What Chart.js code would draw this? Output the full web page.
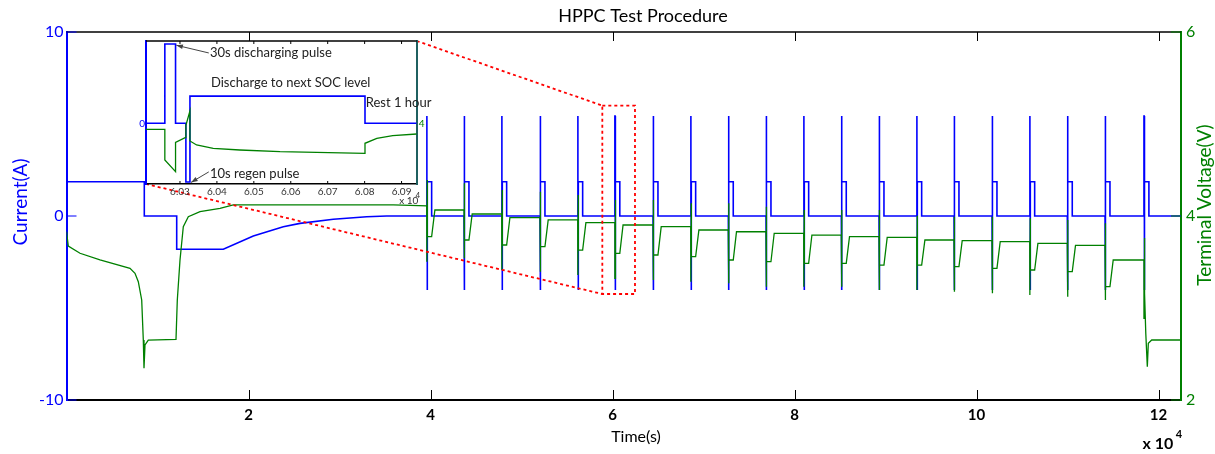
<!DOCTYPE html>
<html>
<head>
<meta charset="utf-8">
<script src="https://cdn.jsdelivr.net/npm/chart.js@4.4.1/dist/chart.umd.min.js"></script>
<style>
  html, body { margin: 0; padding: 0; background: #fff; }
  #wrap { position: relative; width: 1215px; height: 454px; }
  #mainChart { position: absolute; left: 0; top: 0; }
  #insetChart { position: absolute; left: 110px; top: 30px; }
</style>
</head>
<body>
<div id="wrap">
  <canvas id="mainChart" width="1215" height="454"></canvas>
  <canvas id="insetChart" width="340" height="185"></canvas>
</div>
<script>
const BLUE = '#0000ff';
const GREEN = '#008000';
const FONT = 'Lato, "DejaVu Sans", sans-serif';

// ---- main chart data (time in s) ----
const xTicks = [20000, 40000, 60000, 80000, 100000, 120000];
const endTime = 122470;

// first discharge / charge before the pulse train
const startTime = [0, 8549, 8549, 12110, 12110, 17231, 20527, 23824, 25659, 29319, 32989, 35187];
const startCurrent = [1.86, 1.86, 0, 0, -1.81, -1.81, -1.09, -0.58, -0.40, -0.18, -0.04, 0];

const startVoltTime = [0, 198, 1484, 3681, 6978, 7527, 7890, 8264, 8440, 8516, 8626, 8989, 12033, 12176, 12473, 12835, 13385, 14670, 16868, 18330, 35912];
const startVolt = [3.83, 3.674, 3.595, 3.522, 3.431, 3.377, 3.286, 3.087, 2.652, 2.345, 2.598, 2.652, 2.660, 3.087, 3.522, 3.884, 3.992, 4.047, 4.084, 4.120, 4.120];

// HPPC pulses
const pulseTime = [39582, 43681, 47824, 52033, 56176, 60259, 64451, 68593, 72725, 76868,
                   81011, 85143, 89286, 93429, 97527, 101703, 105846, 109978, 114121, 118400];
const dischargeAmp = 5.43;
const regenAmp = -4.02;
const socAmp = 1.86;

const restVolt = [4.109, 4.065, 4.022, 3.982, 3.957, 3.928, 3.902, 3.884, 3.848, 3.829,
                  3.812, 3.793, 3.775, 3.768, 3.739, 3.732, 3.721, 3.703, 3.68, 3.522];
const peakVolt = [4.391, 4.355, 4.283, 4.264, 4.228, 4.174, 4.174, 4.138, 4.138, 4.101,
                  4.065, 4.065, 4.065, 4.003, 3.993, 3.993, 3.975, 3.957, 3.921, 3.76];
const lowVolt = [3.503, 3.540, 3.413, 3.395, 3.359, 3.323, 3.304, 3.286, 3.268, 3.232,
                 3.232, 3.232, 3.196, 3.196, 3.177, 3.160, 3.141, 3.123, 3.087, 2.888];
const dipVolt = [3.775, 3.739, 3.685, 3.667, 3.630, 3.594, 3.576, 3.558, 3.522, 3.503,
                 3.486, 3.486, 3.467, 3.467, 3.449, 3.431, 3.413, 3.395, 3.232];

// last pulse runs into the cut-off
const tailTime = [118470, 118600, 118769, 118879, 119253, 122470];
const tailVolt = [3.16, 2.725, 2.362, 2.616, 2.652, 2.652];

// protocol step offsets inside one pulse (s)
const DIS_END = 30, REGEN_START = 58, REGEN_END = 69, SOC_END = 543, RECOVER = 900;

// zoomed region marked on the main plot
const zoomTime = [58880, 62470];
const zoomCurrent = [-4.24, 6.0];

// ---- inset data ----
const insetTicks = [60300, 60400, 60500, 60600, 60700, 60800, 60900];
const insetCurTime = [60208, 60259, 60259, 60288, 60288, 60316, 60316, 60327, 60327, 60801, 60801, 60941];
const insetCurrent = [0, 0, 5.43, 5.43, 0, 0, -4.02, -4.02, 1.86, 1.86, 0, 0];
const insetVoltTime = [60208, 60259, 60259, 60288, 60288, 60314, 60316, 60327, 60327, 60345, 60390, 60462, 60571, 60801, 60801, 60833, 60876, 60941];
const insetVolt = [3.94, 3.94, 3.633, 3.516, 3.81, 3.856, 3.98, 4.123, 3.823, 3.783, 3.75, 3.733, 3.716, 3.70, 3.80, 3.85, 3.876, 3.893];

function buildCurrent() {
  const pts = startTime.map((t, i) => ({x: t, y: startCurrent[i]}));
  pulseTime.forEach(t => {
    pts.push({x: t, y: 0}, {x: t, y: dischargeAmp}, {x: t + DIS_END, y: dischargeAmp}, {x: t + DIS_END, y: 0},
      {x: t + REGEN_START, y: 0}, {x: t + REGEN_START, y: regenAmp}, {x: t + REGEN_END, y: regenAmp},
      {x: t + REGEN_END, y: socAmp}, {x: t + SOC_END, y: socAmp}, {x: t + SOC_END, y: 0});
  });
  pts.push({x: endTime, y: 0});
  return pts;
}

function buildVoltage() {
  const pts = startVoltTime.map((t, i) => ({x: t, y: startVolt[i]}));
  pulseTime.forEach((t, k) => {
    pts.push({x: t, y: restVolt[k]}, {x: t + 1, y: lowVolt[k]}, {x: t + DIS_END, y: lowVolt[k]},
      {x: t + REGEN_START, y: peakVolt[k]}, {x: t + REGEN_END, y: peakVolt[k]});
    if (k < dipVolt.length) {
      pts.push({x: t + REGEN_END + 1, y: dipVolt[k]}, {x: t + SOC_END, y: dipVolt[k]},
        {x: t + RECOVER, y: restVolt[k + 1]});
    }
  });
  tailTime.forEach((t, i) => pts.push({x: t, y: tailVolt[i]}));
  return pts;
}

function fixedTicks(values) {
  return function(scale) { scale.ticks = values.map(v => ({value: v})); };
}

function drawText(ctx, text, x, y, font, color, align, rot) {
  ctx.save();
  ctx.translate(x, y);
  if (rot) ctx.rotate(rot);
  ctx.font = font;
  ctx.fillStyle = color;
  ctx.textAlign = align || 'center';
  ctx.textBaseline = 'middle';
  ctx.fillText(text, 0, 0);
  ctx.restore();
}

// ---- inset chart ----
const insetDecor = {
  id: 'insetDecor',
  beforeDraw(chart) {
    const {ctx, chartArea: a} = chart;
    ctx.save();
    ctx.fillStyle = '#fff';
    ctx.fillRect(a.left, a.top, a.right - a.left, a.bottom - a.top);
    ctx.restore();
  },
  afterDatasetsDraw(chart) {
    const {ctx, chartArea: a, scales} = chart;
    const x = scales.x, y = scales.y;
    ctx.save();
    // top border + small inward ticks
    ctx.strokeStyle = '#000';
    ctx.lineWidth = 1.5;
    ctx.beginPath();
    ctx.moveTo(a.left, a.top);
    ctx.lineTo(a.right, a.top);
    ctx.stroke();
    ctx.lineWidth = 1;
    insetTicks.forEach(v => {
      const px = x.getPixelForValue(v);
      ctx.beginPath();
      ctx.moveTo(px, a.bottom); ctx.lineTo(px, a.bottom - 3);
      ctx.moveTo(px, a.top); ctx.lineTo(px, a.top + 3);
      ctx.stroke();
    });

    // annotations with arrows
    const f = '13px ' + FONT;
    const arrow = (x0, y0, x1, y1) => {
      ctx.strokeStyle = '#444';
      ctx.fillStyle = '#444';
      ctx.lineWidth = 1;
      ctx.beginPath();
      ctx.moveTo(x0, y0); ctx.lineTo(x1, y1);
      ctx.stroke();
      const ang = Math.atan2(y1 - y0, x1 - x0);
      ctx.beginPath();
      ctx.moveTo(x1, y1);
      ctx.lineTo(x1 - 7 * Math.cos(ang - 0.35), y1 - 7 * Math.sin(ang - 0.35));
      ctx.lineTo(x1 - 7 * Math.cos(ang + 0.35), y1 - 7 * Math.sin(ang + 0.35));
      ctx.closePath();
      ctx.fill();
    };
    arrow(x.getPixelForValue(60378), y.getPixelForValue(4.82), x.getPixelForValue(60290), y.getPixelForValue(5.35));
    arrow(x.getPixelForValue(60378), y.getPixelForValue(-3.33), x.getPixelForValue(60330), y.getPixelForValue(-4.05));
    drawText(ctx, '30s discharging pulse', x.getPixelForValue(60381), y.getPixelForValue(4.82), f, '#222', 'left');
    drawText(ctx, 'Discharge to next SOC level', x.getPixelForValue(60384), y.getPixelForValue(2.77), f, '#222', 'left');
    drawText(ctx, 'Rest 1 hour', x.getPixelForValue(60803), y.getPixelForValue(1.41), f, '#222', 'left');
    drawText(ctx, '10s regen pulse', x.getPixelForValue(60381), y.getPixelForValue(-3.47), f, '#222', 'left');

    // x 10^4 exponent
    drawText(ctx, 'x 10', a.right - 8, a.bottom + 17, '10px ' + FONT, '#333', 'center');
    drawText(ctx, '4', a.right + 1, a.bottom + 11, '8px ' + FONT, '#333', 'center');
    ctx.restore();
  }
};

const insetChart = new Chart(document.getElementById('insetChart'), {
  type: 'line',
  data: {
    datasets: [{
      data: insetVoltTime.map((t, i) => ({x: t, y: insetVolt[i]})),
      yAxisID: 'y2',
      borderColor: GREEN,
      borderWidth: 1.3,
      pointRadius: 0,
      tension: 0
    }, {
      data: insetCurTime.map((t, i) => ({x: t, y: insetCurrent[i]})),
      yAxisID: 'y',
      borderColor: BLUE,
      borderWidth: 1.6,
      pointRadius: 0,
      tension: 0
    }]
  },
  options: {
    responsive: false,
    animation: false,
    layout: { padding: { top: 11, left: 0, right: 0, bottom: 0 } },
    plugins: { legend: { display: false }, tooltip: { enabled: false }, title: { display: false } },
    scales: {
      x: {
        type: 'linear', min: 60208, max: 60941,
        afterBuildTicks: fixedTicks(insetTicks),
        afterFit: s => { s.height = 31; },
        ticks: { callback: v => (v / 1e4).toFixed(2), font: { family: FONT, size: 10 }, color: '#333', padding: 2, maxRotation: 0, autoSkip: false },
        grid: { display: false, drawTicks: false },
        border: { color: '#000', width: 1.5 }
      },
      y: {
        position: 'left', min: -4.16, max: 5.64,
        afterBuildTicks: fixedTicks([0]),
        afterFit: s => { s.width = 36; },
        ticks: { font: { family: FONT, size: 10 }, color: BLUE, padding: 1 },
        grid: { display: false, drawTicks: false },
        border: { color: BLUE, width: 2 }
      },
      y2: {
        position: 'right', min: 3.393, max: 4.823,
        afterBuildTicks: fixedTicks([4]),
        afterFit: s => { s.width = 33.3; },
        ticks: { font: { family: FONT, size: 10 }, color: GREEN, padding: 2 },
        grid: { display: false, drawTicks: false },
        border: { color: '#1f6060', width: 2 }
      }
    }
  },
  plugins: [insetDecor]
});

// ---- main chart ----
const mainDecor = {
  id: 'mainDecor',
  afterDatasetsDraw(chart) {
    const {ctx, chartArea: a, scales} = chart;
    const x = scales.x, y = scales.y, y2 = scales.y2;
    ctx.save();

    // zoom box and connection lines
    const bx0 = x.getPixelForValue(zoomTime[0]), bx1 = x.getPixelForValue(zoomTime[1]);
    const by0 = y.getPixelForValue(zoomCurrent[1]), by1 = y.getPixelForValue(zoomCurrent[0]);
    const ia = insetChart.chartArea;
    const offX = insetChart.canvas.offsetLeft, offY = insetChart.canvas.offsetTop;
    ctx.strokeStyle = '#ff0000';
    ctx.lineWidth = 1.8;
    ctx.setLineDash([3, 3]);
    ctx.strokeRect(bx0, by0, bx1 - bx0, by1 - by0);
    ctx.beginPath();
    ctx.moveTo(offX + ia.right, offY + ia.top); ctx.lineTo(bx0, by0);
    ctx.moveTo(offX + ia.left, offY + ia.bottom); ctx.lineTo(bx0, by1);
    ctx.stroke();
    ctx.setLineDash([]);

    // top border
    ctx.strokeStyle = '#000';
    ctx.lineWidth = 1.5;
    ctx.beginPath();
    ctx.moveTo(a.left, a.top); ctx.lineTo(a.right, a.top);
    ctx.stroke();

    // inward tick marks
    ctx.lineWidth = 1;
    xTicks.forEach(v => {
      const px = Math.round(x.getPixelForValue(v)) + 0.5;
      ctx.beginPath();
      ctx.moveTo(px, a.bottom); ctx.lineTo(px, a.bottom - 10);
      ctx.moveTo(px, a.top); ctx.lineTo(px, a.top + 9);
      ctx.stroke();
    });
    ctx.strokeStyle = BLUE;
    [-10, 0, 10].forEach(v => {
      const py = y.getPixelForValue(v);
      ctx.beginPath(); ctx.moveTo(a.left, py); ctx.lineTo(a.left + 10, py); ctx.stroke();
    });
    ctx.strokeStyle = GREEN;
    [2, 4, 6].forEach(v => {
      const py = y2.getPixelForValue(v);
      ctx.beginPath(); ctx.moveTo(a.right, py); ctx.lineTo(a.right - 10, py); ctx.stroke();
    });
    ctx.restore();
  },
  afterDraw(chart) {
    const ctx = chart.ctx;
    drawText(ctx, 'HPPC Test Procedure', 643, 16, '18px ' + FONT, '#000');
    drawText(ctx, 'Current(A)', 21, 202, '19px ' + FONT, BLUE, 'center', -Math.PI / 2);
    drawText(ctx, 'Terminal Voltage(V)', 1205, 205, '19px ' + FONT, GREEN, 'center', -Math.PI / 2);
    drawText(ctx, 'Time(s)', 636, 437, '16px ' + FONT, '#000');
    drawText(ctx, 'x 10', 1158, 444, 'bold 16px ' + FONT, '#000');
    drawText(ctx, '4', 1179, 434, 'bold 11px ' + FONT, '#000');
  }
};

new Chart(document.getElementById('mainChart'), {
  type: 'line',
  data: {
    datasets: [{
      label: 'Terminal Voltage',
      data: buildVoltage(),
      yAxisID: 'y2',
      borderColor: GREEN,
      borderWidth: 1.3,
      pointRadius: 0,
      tension: 0
    }, {
      label: 'Current',
      data: buildCurrent(),
      yAxisID: 'y',
      borderColor: BLUE,
      borderWidth: 1.6,
      pointRadius: 0,
      tension: 0
    }]
  },
  options: {
    responsive: false,
    animation: false,
    layout: { padding: { top: 32, left: 0, right: 0, bottom: 0 } },
    plugins: { legend: { display: false }, tooltip: { enabled: false }, title: { display: false } },
    scales: {
      x: {
        type: 'linear', min: 0, max: endTime,
        afterBuildTicks: fixedTicks(xTicks),
        afterFit: s => { s.height = 54; },
        ticks: { callback: v => v / 1e4, font: { family: FONT, size: 15, weight: 'bold' }, color: '#000', padding: 6, maxRotation: 0, autoSkip: false },
        grid: { display: false, drawTicks: false },
        border: { color: '#000', width: 2 }
      },
      y: {
        position: 'left', min: -10, max: 10,
        afterBuildTicks: fixedTicks([-10, 0, 10]),
        afterFit: s => { s.width = 66.5; },
        ticks: { font: { family: FONT, size: 16 }, color: BLUE, padding: 3 },
        grid: { display: false, drawTicks: false },
        border: { color: BLUE, width: 2 }
      },
      y2: {
        position: 'right', min: 2, max: 6,
        afterBuildTicks: fixedTicks([2, 4, 6]),
        afterFit: s => { s.width = 34; },
        ticks: { font: { family: FONT, size: 16 }, color: GREEN, padding: 5 },
        grid: { display: false, drawTicks: false },
        border: { color: GREEN, width: 2 }
      }
    }
  },
  plugins: [mainDecor]
});
</script>
</body>
</html>
